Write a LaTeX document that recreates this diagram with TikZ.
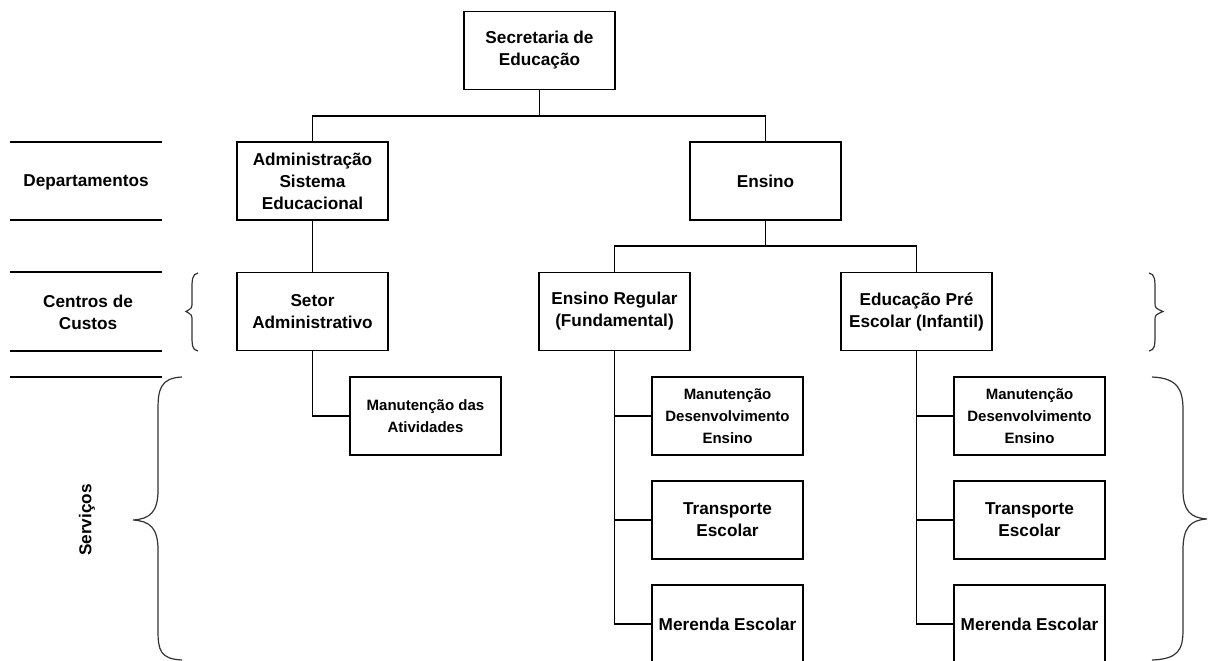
\documentclass[tikz,border=0pt]{standalone}
\usepackage{fontspec}
\setmainfont{Liberation Sans}
\newcommand{\smallunit}{\fontsize{15}{21}\selectfont}
\begin{document}
\begin{tikzpicture}[x=1pt,y=-1pt,
  unit/.style={draw, line width=1.2pt, minimum width=151pt, minimum height=78pt,
    inner sep=2pt, align=center, font=\bfseries\fontsize{17.2}{22}\selectfont},
  label/.style={align=center, font=\bfseries\fontsize{17.2}{22}\selectfont},
  link/.style={line width=1.2pt},
  rule/.style={line width=1.2pt},
  brace/.style={line width=1.2pt, draw=black!80}]
\clip (0,0) rectangle (1208,661);

% hierarchy
\node[unit] (sec) at (539.5,50.5) {Secretaria de\\Educação};
\node[unit] (adm) at (312.5,181) {Administração\\Sistema\\Educacional};
\node[unit] (ens) at (765.5,181) {Ensino};
\node[unit] (set) at (312.5,311.5) {Setor\\Administrativo};
\node[unit] (reg) at (614.5,311.5) {Ensino Regular\\(Fundamental)};
\node[unit] (pre) at (916.5,311.5) {Educação Pré\\Escolar (Infantil)};
\node[unit] (mat) at (425.5,416) {\smallunit Manutenção das\\\smallunit Atividades};

\node[unit] (rm) at (727.5,416) {\smallunit Manutenção\\\smallunit Desenvolvimento\\\smallunit Ensino};
\node[unit] (rt) at (727.5,520) {Transporte\\Escolar};
\node[unit] (rme) at (727.5,624) {Merenda Escolar};

\node[unit] (pm) at (1029.5,416) {\smallunit Manutenção\\\smallunit Desenvolvimento\\\smallunit Ensino};
\node[unit] (pt) at (1029.5,520) {Transporte\\Escolar};
\node[unit] (pme) at (1029.5,624) {Merenda Escolar};

% connectors
\coordinate (bus1) at (539.5,116);
\coordinate (bus2) at (765.5,246);
\draw[link] (sec.south) -- (bus1);
\draw[link] (adm.north) |- (bus1) -| (ens.north);
\draw[link] (adm.south) -- (set.north);
\draw[link] (set.south) |- (mat.west);
\draw[link] (ens.south) -- (bus2);
\draw[link] (reg.north) |- (bus2) -| (pre.north);
\draw[link] (reg.south) |- (rm.west);
\draw[link] (reg.south) |- (rt.west);
\draw[link] (reg.south) |- (rme.west);
\draw[link] (pre.south) |- (pm.west);
\draw[link] (pre.south) |- (pt.west);
\draw[link] (pre.south) |- (pme.west);

% level labels and rules
\foreach \yy in {142,220,272,351,377}
  \draw[rule] (10,\yy) -- (162,\yy);
\node[label] (ldep) at (86,182) {Departamentos};
\node[label] (lcc) at (88,312.5) {Centros de\\Custos};
\node[label, rotate=90] (lserv) at (87,520) {Serviços};

% braces
\draw[brace] (198,273) .. controls (192,274) and (192,280) .. (192,290)
  -- (192,302) .. controls (192,308) .. (186,311.5)
  .. controls (192,315) .. (192,321) -- (192,334)
  .. controls (192,345) and (192,350) .. (198,351);
\draw[brace] (182,377) .. controls (160,378) and (158,390) .. (158,410)
  -- (158,490) .. controls (158,512) and (150,519) .. (133,520)
  .. controls (150,521) and (158,528) .. (158,550)
  -- (158,630) .. controls (158,650) and (160,659) .. (182,660);
\draw[brace] (1149,273) .. controls (1155,274) and (1155,280) .. (1155,290)
  -- (1155,302) .. controls (1155,308) .. (1163,311.5)
  .. controls (1155,315) .. (1155,321) -- (1155,334)
  .. controls (1155,345) and (1155,350) .. (1149,351);
\draw[brace] (1152,377) .. controls (1178,378) and (1183,390) .. (1183,410)
  -- (1183,490) .. controls (1183,510) and (1190,518) .. (1207,519)
  .. controls (1190,520) and (1183,528) .. (1183,550)
  -- (1183,630) .. controls (1183,650) and (1178,659) .. (1152,660);
\end{tikzpicture}
\end{document}
